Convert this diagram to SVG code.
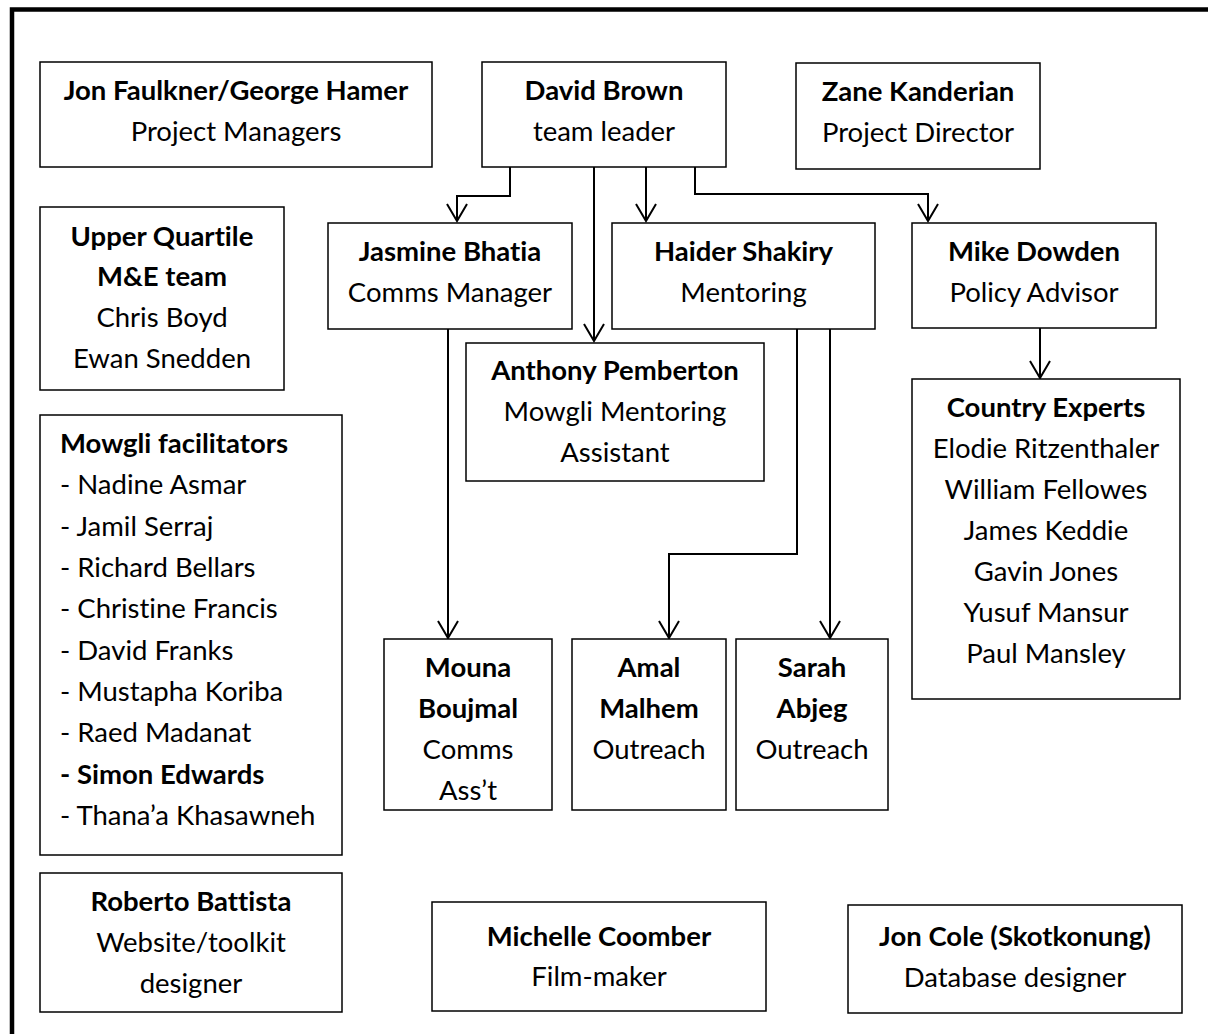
<svg xmlns="http://www.w3.org/2000/svg" width="1208" height="1034" viewBox="0 0 1208 1034">
<style>
.box{fill:#fff;stroke:#000;stroke-width:1.5}
.t{font-family:Lato,"Open Sans","Liberation Sans",sans-serif;font-size:27.5px;fill:#000;text-anchor:middle;font-variant-ligatures:none;font-feature-settings:"liga" 0}
.l{text-anchor:start}
.b{font-weight:bold}
.c{fill:none;stroke:#000;stroke-width:2}
.frame{fill:none;stroke:#000;stroke-width:4.5}
</style>
<defs>
<marker id="arr" viewBox="-19 -12 21 24" refX="0" refY="0" markerWidth="21" markerHeight="24" markerUnits="userSpaceOnUse" orient="auto">
<path d="M-17,-10 L0,0 L-17,10" fill="none" stroke="#000" stroke-width="2"/>
</marker>
</defs>
<rect x="0" y="0" width="1208" height="1034" fill="#fff"/>
<path class="frame" d="M12,1040 V9.5 H1215"/>

<g id="connectors">
<path class="c" d="M510,167 V196 H457 V221" marker-end="url(#arr)"/>
<path class="c" d="M594,167 V341" marker-end="url(#arr)"/>
<path class="c" d="M646,167 V221" marker-end="url(#arr)"/>
<path class="c" d="M695,167 V194 H928 V221" marker-end="url(#arr)"/>
<path class="c" d="M448,329 V638" marker-end="url(#arr)"/>
<path class="c" d="M797,329 V554 H669 V638" marker-end="url(#arr)"/>
<path class="c" d="M830,329 V638" marker-end="url(#arr)"/>
<path class="c" d="M1040,328 V378" marker-end="url(#arr)"/>
</g>

<g id="jon-faulkner">
<rect class="box" x="40" y="62" width="392" height="105"/>
<text class="t b" x="236" y="100">Jon Faulkner/George Hamer</text>
<text class="t" x="236" y="141">Project Managers</text>
</g>
<g id="david-brown">
<rect class="box" x="482" y="62" width="244" height="105"/>
<text class="t b" x="604" y="100">David Brown</text>
<text class="t" x="604" y="141">team leader</text>
</g>
<g id="zane-kanderian">
<rect class="box" x="796" y="63" width="244" height="106"/>
<text class="t b" x="918" y="101">Zane Kanderian</text>
<text class="t" x="918" y="142">Project Director</text>
</g>
<g id="upper-quartile">
<rect class="box" x="40" y="207" width="244" height="183"/>
<text class="t b" x="162" y="246">Upper Quartile</text>
<text class="t b" x="162" y="286">M&amp;E team</text>
<text class="t" x="162" y="327">Chris Boyd</text>
<text class="t" x="162" y="368">Ewan Snedden</text>
</g>
<g id="jasmine-bhatia">
<rect class="box" x="328" y="223" width="244" height="106"/>
<text class="t b" x="450" y="261">Jasmine Bhatia</text>
<text class="t" x="450" y="302">Comms Manager</text>
</g>
<g id="haider-shakiry">
<rect class="box" x="612" y="223" width="263" height="106"/>
<text class="t b" x="743.5" y="261">Haider Shakiry</text>
<text class="t" x="743.5" y="302">Mentoring</text>
</g>
<g id="mike-dowden">
<rect class="box" x="912" y="223" width="244" height="105"/>
<text class="t b" x="1034" y="261">Mike Dowden</text>
<text class="t" x="1034" y="302">Policy Advisor</text>
</g>
<g id="anthony-pemberton">
<rect class="box" x="466" y="343" width="298" height="138"/>
<text class="t b" x="615" y="380">Anthony Pemberton</text>
<text class="t" x="615" y="421">Mowgli Mentoring</text>
<text class="t" x="615" y="462">Assistant</text>
</g>
<g id="country-experts">
<rect class="box" x="912" y="379" width="268" height="320"/>
<text class="t b" x="1046" y="417">Country Experts</text>
<text class="t" x="1046" y="458">Elodie Ritzenthaler</text>
<text class="t" x="1046" y="499">William Fellowes</text>
<text class="t" x="1046" y="540">James Keddie</text>
<text class="t" x="1046" y="581">Gavin Jones</text>
<text class="t" x="1046" y="622">Yusuf Mansur</text>
<text class="t" x="1046" y="663">Paul Mansley</text>
</g>
<g id="mowgli-facilitators">
<rect class="box" x="40" y="415" width="302" height="440"/>
<text class="t l b" x="60" y="453">Mowgli facilitators</text>
<text class="t l" x="60" y="494">- Nadine Asmar</text>
<text class="t l" x="60" y="536">- Jamil Serraj</text>
<text class="t l" x="60" y="577">- Richard Bellars</text>
<text class="t l" x="60" y="618">- Christine Francis</text>
<text class="t l" x="60" y="660">- David Franks</text>
<text class="t l" x="60" y="701">- Mustapha Koriba</text>
<text class="t l" x="60" y="742">- Raed Madanat</text>
<text class="t l b" x="60" y="784">- Simon Edwards</text>
<text class="t l" x="60" y="825">- Thana’a Khasawneh</text>
</g>
<g id="mouna-boujmal">
<rect class="box" x="384" y="639" width="168" height="171"/>
<text class="t b" x="468" y="677">Mouna</text>
<text class="t b" x="468" y="718">Boujmal</text>
<text class="t" x="468" y="759">Comms</text>
<text class="t" x="468" y="800">Ass’t</text>
</g>
<g id="amal-malhem">
<rect class="box" x="572" y="639" width="154" height="171"/>
<text class="t b" x="649" y="677">Amal</text>
<text class="t b" x="649" y="718">Malhem</text>
<text class="t" x="649" y="759">Outreach</text>
</g>
<g id="sarah-abjeg">
<rect class="box" x="736" y="639" width="152" height="171"/>
<text class="t b" x="812" y="677">Sarah</text>
<text class="t b" x="812" y="718">Abjeg</text>
<text class="t" x="812" y="759">Outreach</text>
</g>
<g id="roberto-battista">
<rect class="box" x="40" y="873" width="302" height="139"/>
<text class="t b" x="191" y="911">Roberto Battista</text>
<text class="t" x="191" y="952">Website/toolkit</text>
<text class="t" x="191" y="993">designer</text>
</g>
<g id="michelle-coomber">
<rect class="box" x="432" y="902" width="334" height="109"/>
<text class="t b" x="599" y="946">Michelle Coomber</text>
<text class="t" x="599" y="986">Film-maker</text>
</g>
<g id="jon-cole">
<rect class="box" x="848" y="905" width="334" height="108"/>
<text class="t b" x="1015" y="946">Jon Cole (Skotkonung)</text>
<text class="t" x="1015" y="987">Database designer</text>
</g>
</svg>
